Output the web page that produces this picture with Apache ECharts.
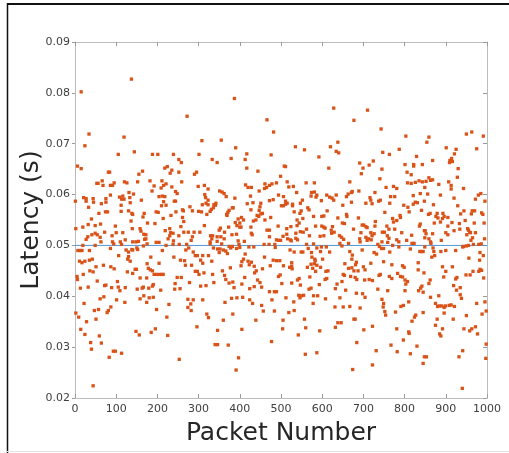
<!DOCTYPE html>
<html><head><meta charset="utf-8">
<script src="https://cdn.jsdelivr.net/npm/echarts@6/dist/echarts.min.js"></script>
<style>html,body{margin:0;padding:0;background:#fff}#c{width:509px;height:453px}</style>
</head><body><div id="c"></div>
<script>
const xTicks = [0, 100, 200, 300, 400, 500, 600, 700, 800, 900, 1000];
const yTicks = [0.02, 0.03, 0.04, 0.05, 0.06, 0.07, 0.08, 0.09];
const meanLatency = 0.05;
const xLabel = 'Packet Number';
const yLabel = 'Latency (s)';
// [packet number, latency (s)]
const samples = [
[137,.0827],[15,.0802],[34,.0719],[119,.0713],[24,.0696],[144,.0684],[105,.0679],[6,.0656],[15,.0651],[164,.0646],[155,.0640],[81,.0644],[84,.0644],[66,.0627],[53,.0622],[56,.0622],[68,.0618],[86,.0618],[91,.0618],[95,.0623],[120,.0625],[126,.0623],[152,.0625],[131,.0604],[142,.0601],[86,.0599],[1,.0587],[21,.0594],[27,.0592],[27,.0587],[44,.0592],[45,.0585],[75,.0592],[75,.0585],[64,.0582],[108,.0595],[116,.0597],[113,.0591],[119,.0591],[133,.0594],[134,.0584],[161,.0589],[33,.0575],[112,.0579],[74,.0566],[79,.0566],[112,.0567],[130,.0568],[138,.0563],[140,.0561],[58,.0563],[165,.0556],[168,.0563],[40,.0552],[2,.0533],[19,.0536],[32,.0541],[49,.0539],[62,.0542],[98,.0538],[136,.0548],[139,.0533],[158,.0533],[160,.0528],[167,.0522],[49,.0524],[54,.0521],[72,.0526],[90,.0519],[100,.0525],[116,.0525],[27,.0512],[31,.0517],[41,.0521],[61,.0516],[63,.0507],[91,.0507],[94,.0503],[110,.0507],[113,.0502],[122,.0511],[140,.0507],[148,.0507],[154,.0508],[169,.0512],[19,.0500],[49,.0500],[86,.0494],[124,.0491],[130,.0487],[130,.0478],[138,.0492],[140,.0491],[150,.0495],[152,.0492],[166,.0499],[7,.0490],[13,.0490],[17,.0490],[35,.0490],[106,.0480],[128,.0473],[134,.0469],[11,.0469],[17,.0466],[24,.0469],[35,.0471],[42,.0473],[51,.0458],[69,.0461],[87,.0458],[95,.0454],[36,.0450],[44,.0448],[146,.0453],[149,.0453],[127,.0448],[140,.0445],[5,.0439],[6,.0433],[20,.0443],[54,.0430],[75,.0422],[72,.0421],[103,.0429],[158,.0436],[13,.0416],[32,.0418],[89,.0417],[105,.0418],[109,.0411],[122,.0417],[151,.0414],[163,.0416],[166,.0418],[167,.0401],[61,.0395],[70,.0399],[101,.0393],[121,.0388],[158,.0395],[22,.0386],[87,.0379],[81,.0372],[78,.0368],[57,.0374],[47,.0372],[2,.0367],[9,.0359],[51,.0355],[28,.0350],[14,.0335],[24,.0325],[59,.0322],[148,.0331],[156,.0324],[38,.0309],[64,.0308],[40,.0296],[93,.0292],[98,.0292],[113,.0288],[83,.0280],[44,.0224],
[272,.0754],[308,.0706],[333,.0669],[188,.0679],[201,.0679],[239,.0679],[301,.0679],[252,.0669],[258,.0663],[218,.0652],[224,.0655],[235,.0648],[231,.0642],[252,.0644],[290,.0640],[295,.0644],[182,.0627],[192,.0617],[211,.0627],[221,.0621],[215,.0618],[209,.0613],[235,.0615],[259,.0625],[299,.0616],[314,.0618],[323,.0611],[187,.0607],[244,.0606],[248,.0602],[204,.0596],[212,.0597],[218,.0596],[315,.0600],[317,.0594],[323,.0589],[318,.0583],[215,.0586],[221,.0579],[210,.0578],[241,.0587],[244,.0587],[279,.0576],[309,.0580],[323,.0580],[337,.0580],[261,.0570],[263,.0568],[285,.0568],[300,.0567],[307,.0566],[320,.0561],[328,.0567],[331,.0571],[336,.0574],[197,.0566],[202,.0565],[233,.0559],[245,.0566],[214,.0553],[261,.0555],[264,.0547],[176,.0544],[194,.0543],[257,.0537],[314,.0539],[230,.0533],[219,.0529],[232,.0525],[238,.0524],[230,.0519],[226,.0513],[264,.0526],[275,.0526],[289,.0526],[303,.0526],[285,.0517],[282,.0510],[252,.0519],[172,.0521],[172,.0513],[329,.0519],[334,.0519],[332,.0513],[239,.0509],[197,.0506],[204,.0506],[175,.0503],[221,.0500],[238,.0502],[253,.0502],[271,.0502],[276,.0495],[328,.0503],[328,.0507],[336,.0495],[212,.0490],[269,.0491],[287,.0487],[292,.0480],[297,.0480],[310,.0480],[324,.0480],[184,.0477],[240,.0477],[256,.0471],[266,.0470],[268,.0461],[283,.0461],[305,.0471],[310,.0465],[332,.0469],[204,.0465],[175,.0464],[178,.0455],[183,.0452],[188,.0450],[192,.0443],[198,.0443],[205,.0443],[211,.0443],[214,.0443],[174,.0436],[248,.0437],[258,.0437],[278,.0427],[292,.0449],[297,.0449],[301,.0443],[313,.0446],[334,.0443],[337,.0427],[243,.0425],[242,.0414],[305,.0420],[318,.0421],[190,.0423],[188,.0420],[179,.0416],[208,.0412],[255,.0415],[190,.0398],[180,.0397],[174,.0388],[274,.0394],[287,.0393],[281,.0385],[274,.0378],[282,.0372],[310,.0393],[228,.0384],[198,.0374],[320,.0365],[324,.0358],[223,.0359],[296,.0340],[185,.0329],[195,.0336],[225,.0323],[340,.0305],[253,.0276],
[387,.0789],[466,.0747],[482,.0723],[355,.0707],[390,.0692],[417,.0680],[413,.0669],[476,.0678],[379,.0671],[345,.0663],[417,.0652],[508,.0656],[444,.0646],[499,.0636],[414,.0619],[420,.0614],[428,.0614],[426,.0597],[461,.0621],[465,.0614],[472,.0618],[478,.0621],[489,.0623],[460,.0612],[447,.0607],[494,.0599],[351,.0607],[357,.0605],[362,.0602],[367,.0596],[388,.0593],[472,.0588],[481,.0590],[506,.0596],[432,.0584],[451,.0583],[449,.0576],[447,.0569],[451,.0562],[455,.0563],[418,.0582],[342,.0583],[341,.0579],[382,.0574],[384,.0574],[374,.0569],[371,.0565],[368,.0561],[369,.0559],[427,.0570],[501,.0578],[506,.0578],[404,.0555],[396,.0552],[409,.0550],[400,.0544],[403,.0536],[442,.0559],[446,.0557],[439,.0550],[461,.0550],[475,.0555],[389,.0545],[353,.0534],[350,.0530],[373,.0536],[393,.0539],[400,.0536],[433,.0548],[427,.0536],[493,.0538],[466,.0530],[472,.0530],[363,.0526],[381,.0521],[392,.0522],[428,.0524],[430,.0521],[472,.0517],[505,.0518],[499,.0510],[494,.0510],[489,.0511],[345,.0517],[345,.0508],[354,.0517],[362,.0513],[411,.0508],[396,.0509],[398,.0502],[382,.0498],[356,.0503],[374,.0498],[378,.0495],[392,.0494],[400,.0496],[422,.0497],[434,.0497],[459,.0502],[471,.0502],[486,.0496],[485,.0502],[346,.0493],[352,.0493],[360,.0491],[366,.0489],[370,.0484],[350,.0486],[413,.0483],[409,.0473],[405,.0468],[403,.0460],[420,.0469],[428,.0467],[435,.0459],[460,.0477],[481,.0471],[489,.0470],[497,.0470],[423,.0462],[506,.0460],[358,.0450],[377,.0456],[440,.0450],[436,.0446],[455,.0454],[474,.0460],[363,.0441],[366,.0433],[374,.0426],[383,.0428],[386,.0417],[405,.0424],[412,.0437],[443,.0432],[449,.0427],[435,.0419],[453,.0418],[424,.0415],[472,.0409],[478,.0393],[484,.0409],[489,.0409],[494,.0439],[498,.0442],[502,.0425],[380,.0396],[393,.0397],[407,.0398],[424,.0393],[431,.0386],[453,.0382],[364,.0388],[457,.0371],[484,.0371],[383,.0365],[439,.0353],[360,.0353],[505,.0353],[504,.0336],[346,.0333],[405,.0335],[477,.0311],[346,.0305],[372,.0304],[397,.0279],[391,.0255],
[628,.0770],[677,.0746],[535,.0694],[557,.0688],[620,.0694],[638,.0703],[634,.0685],[640,.0682],[592,.0674],[616,.0652],[511,.0655],[515,.0625],[530,.0616],[519,.0615],[561,.0623],[581,.0623],[667,.0625],[538,.0604],[574,.0604],[581,.0605],[573,.0597],[587,.0599],[585,.0595],[611,.0599],[618,.0595],[624,.0593],[628,.0589],[634,.0599],[663,.0601],[659,.0596],[671,.0604],[673,.0606],[598,.0588],[552,.0589],[547,.0583],[511,.0587],[511,.0581],[515,.0583],[528,.0581],[528,.0578],[565,.0574],[568,.0570],[650,.0579],[671,.0585],[532,.0566],[546,.0563],[549,.0568],[579,.0557],[599,.0557],[604,.0558],[612,.0568],[638,.0554],[649,.0544],[654,.0543],[659,.0561],[660,.0557],[539,.0550],[553,.0553],[544,.0544],[539,.0539],[524,.0537],[514,.0533],[562,.0532],[554,.0526],[584,.0538],[599,.0538],[604,.0536],[607,.0534],[625,.0537],[622,.0530],[623,.0524],[629,.0526],[676,.0532],[514,.0522],[516,.0513],[536,.0524],[523,.0511],[547,.0527],[536,.0514],[569,.0519],[595,.0518],[604,.0519],[642,.0519],[647,.0516],[652,.0512],[525,.0509],[540,.0511],[562,.0502],[566,.0494],[579,.0503],[587,.0495],[598,.0497],[610,.0497],[618,.0487],[643,.0504],[648,.0499],[664,.0504],[522,.0491],[532,.0487],[549,.0487],[553,.0487],[574,.0486],[575,.0477],[596,.0488],[667,.0488],[673,.0481],[672,.0473],[582,.0473],[601,.0473],[587,.0461],[596,.0457],[526,.0466],[573,.0463],[581,.0464],[583,.0470],[564,.0457],[577,.0455],[526,.0459],[521,.0457],[527,.0454],[655,.0464],[664,.0455],[672,.0456],[677,.0450],[614,.0450],[609,.0449],[607,.0433],[584,.0449],[651,.0443],[654,.0441],[669,.0439],[570,.0438],[544,.0435],[540,.0432],[611,.0435],[526,.0426],[547,.0422],[593,.0423],[636,.0424],[632,.0415],[648,.0429],[568,.0414],[573,.0416],[657,.0412],[543,.0402],[550,.0401],[546,.0397],[555,.0402],[579,.0401],[589,.0401],[512,.0397],[531,.0389],[608,.0395],[643,.0397],[578,.0386],[631,.0379],[651,.0379],[667,.0380],[519,.0368],[532,.0372],[557,.0355],[677,.0355],[638,.0348],[646,.0348],[632,.0339],[560,.0338],[594,.0332],[542,.0324],[587,.0289],[559,.0286],[674,.0256],
[710,.0766],[743,.0729],[803,.0715],[747,.0683],[763,.0679],[787,.0689],[829,.0675],[691,.0662],[699,.0652],[695,.0641],[714,.0658],[724,.0666],[745,.0650],[801,.0659],[822,.0659],[822,.0656],[843,.0659],[806,.0644],[816,.0639],[740,.0631],[807,.0623],[816,.0622],[826,.0624],[835,.0627],[843,.0625],[755,.0614],[773,.0616],[781,.0612],[689,.0607],[821,.0598],[838,.0602],[716,.0594],[718,.0589],[721,.0582],[728,.0604],[741,.0589],[737,.0587],[766,.0596],[776,.0596],[764,.0583],[706,.0583],[798,.0579],[808,.0575],[811,.0566],[821,.0581],[826,.0585],[831,.0584],[848,.0587],[841,.0569],[752,.0565],[771,.0553],[773,.0546],[781,.0549],[789,.0559],[790,.0555],[688,.0554],[729,.0547],[728,.0538],[697,.0540],[701,.0540],[706,.0537],[709,.0535],[757,.0538],[762,.0532],[776,.0532],[838,.0542],[836,.0538],[694,.0525],[718,.0525],[726,.0523],[721,.0519],[746,.0526],[751,.0526],[793,.0525],[817,.0520],[848,.0529],[691,.0513],[692,.0507],[706,.0516],[709,.0510],[712,.0513],[719,.0511],[745,.0507],[758,.0519],[762,.0514],[759,.0506],[781,.0511],[786,.0507],[805,.0510],[818,.0504],[823,.0504],[735,.0502],[739,.0498],[744,.0494],[749,.0494],[771,.0500],[786,.0497],[814,.0493],[697,.0491],[726,.0486],[732,.0483],[764,.0487],[837,.0488],[841,.0488],[845,.0488],[683,.0467],[681,.0462],[718,.0465],[749,.0468],[769,.0462],[795,.0460],[799,.0457],[833,.0466],[833,.0452],[700,.0458],[704,.0452],[687,.0450],[847,.0446],[783,.0445],[790,.0439],[795,.0438],[738,.0441],[741,.0443],[763,.0439],[769,.0435],[680,.0437],[684,.0433],[703,.0432],[714,.0433],[722,.0431],[801,.0432],[807,.0429],[803,.0424],[842,.0420],[839,.0416],[735,.0414],[759,.0411],[801,.0411],[834,.0411],[845,.0408],[683,.0406],[698,.0405],[704,.0398],[745,.0394],[749,.0386],[748,.0379],[752,.0370],[754,.0363],[810,.0389],[797,.0382],[791,.0380],[692,.0377],[778,.0369],[827,.0363],[824,.0359],[818,.0351],[845,.0368],[680,.0355],[722,.0341],[701,.0334],[781,.0336],[810,.0330],[811,.0327],[797,.0314],[684,.0309],[767,.0304],[830,.0302],[731,.0293],[782,.0291],[814,.0287],[848,.0281],[722,.0265],[845,.0268],
[950,.0719],[963,.0723],[991,.0715],[859,.0713],[854,.0703],[901,.0692],[925,.0689],[921,.0680],[975,.0690],[914,.0671],[910,.0667],[916,.0665],[909,.0663],[868,.0667],[930,.0651],[928,.0634],[852,.0626],[859,.0633],[868,.0629],[863,.0628],[849,.0614],[883,.0620],[907,.0625],[913,.0618],[913,.0611],[943,.0612],[856,.0601],[887,.0599],[920,.0593],[979,.0599],[985,.0602],[972,.0591],[995,.0587],[870,.0580],[929,.0578],[858,.0561],[862,.0563],[879,.0563],[881,.0554],[876,.0557],[893,.0563],[896,.0557],[887,.0546],[892,.0553],[905,.0555],[936,.0562],[944,.0568],[962,.0562],[964,.0568],[970,.0568],[987,.0564],[990,.0561],[872,.0544],[915,.0545],[933,.0543],[947,.0549],[969,.0544],[993,.0544],[850,.0529],[852,.0523],[868,.0523],[905,.0538],[953,.0533],[958,.0526],[960,.0525],[951,.0521],[955,.0530],[972,.0525],[934,.0532],[920,.0529],[900,.0525],[905,.0521],[849,.0515],[859,.0513],[863,.0507],[864,.0504],[889,.0510],[965,.0515],[961,.0510],[994,.0513],[943,.0498],[941,.0497],[950,.0499],[955,.0500],[967,.0502],[980,.0502],[986,.0503],[849,.0497],[869,.0495],[871,.0488],[873,.0480],[866,.0477],[888,.0488],[900,.0490],[924,.0490],[983,.0486],[991,.0480],[982,.0471],[956,.0475],[892,.0458],[895,.0438],[916,.0458],[900,.0449],[983,.0453],[987,.0451],[980,.0449],[966,.0449],[949,.0442],[959,.0442],[992,.0436],[927,.0437],[924,.0434],[862,.0432],[859,.0425],[919,.0421],[935,.0417],[926,.0412],[935,.0403],[938,.0396],[863,.0398],[883,.0401],[995,.0389],[975,.0386],[875,.0386],[880,.0380],[884,.0381],[890,.0381],[899,.0381],[908,.0382],[913,.0383],[921,.0380],[896,.0378],[998,.0371],[896,.0367],[988,.0365],[950,.0362],[879,.0355],[875,.0343],[918,.0355],[885,.0326],[888,.0322],[892,.0336],[944,.0336],[958,.0332],[963,.0336],[972,.0340],[977,.0326],[998,.0306],[941,.0293],[853,.0281],[932,.0281],[997,.0278],[940,.0219]
];

const xMin = xTicks[0], xMax = xTicks[xTicks.length - 1];
const yMin = yTicks[0], yMax = yTicks[yTicks.length - 1];
const FONT = 'DejaVu Sans';
const boxLine = { show: true, onZero: false, lineStyle: { color: '#bcbcbc', width: 1 } };
const tickStyle = { color: '#9a9a9a', width: 1 };

const chart = echarts.init(document.getElementById('c'), null, { renderer: 'canvas' });
chart.setOption({
  animation: false,
  backgroundColor: '#ffffff',
  grid: { left: 75, right: 22, top: 42, bottom: 55, containLabel: false },
  xAxis: [
    { type: 'value', position: 'bottom', min: xMin, max: xMax, interval: 100,
      axisLine: boxLine, axisTick: { inside: true, length: 4, lineStyle: tickStyle },
      axisLabel: { color: '#404040', fontSize: 11, fontFamily: FONT, margin: 6,
        formatter: v => String(v) },
      splitLine: { show: false },
      name: xLabel, nameLocation: 'middle', nameGap: 23, nameMoveOverlap: false,
      nameTextStyle: { fontSize: 25, color: '#262626', fontFamily: FONT } },
    { type: 'value', position: 'top', min: xMin, max: xMax, interval: 100,
      axisLine: boxLine, axisTick: { inside: true, length: 4, lineStyle: tickStyle },
      axisLabel: { show: false }, splitLine: { show: false } }
  ],
  yAxis: [
    { type: 'value', position: 'left', min: yMin, max: yMax, interval: 0.01,
      axisLine: boxLine, axisTick: { inside: false, length: 3, lineStyle: tickStyle },
      axisLabel: { color: '#404040', fontSize: 11, fontFamily: FONT, margin: 5,
        formatter: v => v.toFixed(2) },
      splitLine: { show: false },
      name: yLabel, nameLocation: 'middle', nameGap: 31, nameRotate: 90, nameMoveOverlap: false,
      nameTextStyle: { fontSize: 25, color: '#262626', fontFamily: FONT } },
    { type: 'value', position: 'right', min: yMin, max: yMax, interval: 0.01,
      axisLine: boxLine, axisTick: { inside: true, length: 4, lineStyle: tickStyle },
      axisLabel: { show: false }, splitLine: { show: false } }
  ],
  series: [
    { type: 'line', name: 'mean', xAxisIndex: 0, yAxisIndex: 0, z: 1,
      data: [[xMin, meanLatency], [xMax, meanLatency]],
      symbol: 'none', silent: true,
      lineStyle: { color: '#4f97d6', width: 1 } },
    { type: 'scatter', name: 'latency', xAxisIndex: 0, yAxisIndex: 0, z: 2,
      data: samples, symbol: 'rect', symbolSize: 3.3,
      itemStyle: { color: '#D95319', opacity: 1 } }
  ],
  graphic: [
    { type: 'line', shape: { x1: 7, y1: 4, x2: 509, y2: 4 }, style: { stroke: '#111', lineWidth: 2 }, silent: true },
    { type: 'line', shape: { x1: 7.5, y1: 3, x2: 7.5, y2: 453 }, style: { stroke: '#111', lineWidth: 1.5 }, silent: true },
    { type: 'line', shape: { x1: 7, y1: 451.5, x2: 509, y2: 451.5 }, style: { stroke: '#e4e4e4', lineWidth: 1 }, silent: true }
  ]
});
</script>
</body></html>
